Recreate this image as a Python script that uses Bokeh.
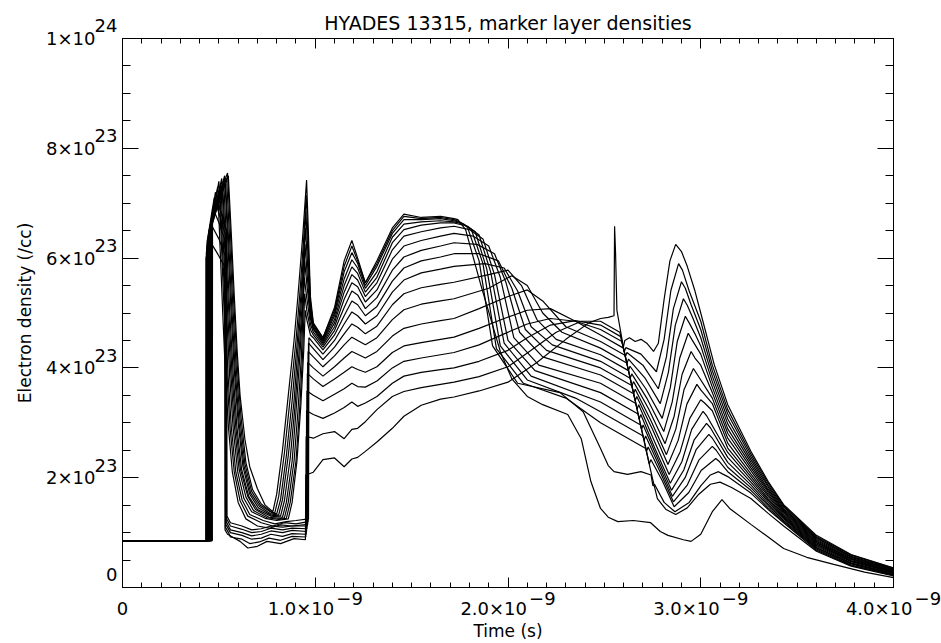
from bokeh.plotting import figure
from bokeh.models import Range1d, LinearAxis, FixedTicker
from bokeh.embed import file_html
from bokeh.resources import INLINE

TITLE = "HYADES 13315, marker layer densities"
X_TITLE = "Time (s)"
Y_TITLE = "Electron density (/cc)"

T_UNIT = 1e-9   # layer times are in ns
N_UNIT = 1e23   # layer densities are in 1e23 /cc

x_ticks = [0.0, 1e-9, 2e-9, 3e-9, 4e-9]
x_tick_main = ["0", "1.0×10", "2.0×10", "3.0×10", "4.0×10"]
x_tick_sup = ["", "−9", "−9", "−9", "−9"]
y_ticks = [0.0, 2e23, 4e23, 6e23, 8e23, 1e24]
y_tick_main = ["", "2×10", "4×10", "6×10", "8×10", "1×10"]
y_tick_sup = ["0", "23", "23", "23", "23", "24"]

mid_times = [0.99, 1.04, 1.10, 1.15, 1.19, 1.22, 1.26, 1.32, 1.40, 1.46, 1.55, 1.65, 1.72]

layer_00_head = [(0.0, 0.855), (0.432, 0.855), (0.433, 6.00), (0.455, 6.30), (0.490, 6.10), (0.530, 5.85), (0.532, 1.05), (0.545, 0.97), (0.610, 0.84), (0.650, 0.72), (0.700, 0.75), (0.750, 0.84), (0.820, 0.80), (0.890, 0.89), (0.949, 0.87), (0.951, 2.05)]
layer_00_mid = [2.10, 2.33, 2.36, 2.20, 2.34, 2.37, 2.48, 2.65, 2.90, 3.12, 3.32, 3.43, 3.47]
layer_00_tail = [(1.85, 3.58), (2.00, 3.74), (2.15, 4.10), (2.30, 4.52), (2.42, 4.82), (2.48, 4.90), (2.52, 4.92), (2.550, 4.95), (2.553, 6.58), (2.558, 6.10), (2.565, 5.05), (2.60, 4.35), (2.64, 3.72), (2.68, 3.08), (2.72, 2.45), (2.75, 1.98), (2.775, 1.62), (2.82, 1.42), (2.87, 1.33), (2.93, 1.45), (2.99, 1.70), (3.05, 1.88), (3.10, 1.92), (3.16, 1.82), (3.26, 1.62), (3.35, 1.35), (3.43, 1.12), (3.60, 0.66), (3.78, 0.39), (4.00, 0.21)]

layer_01_head = [(0.0, 0.855), (0.434, 0.855), (0.435, 6.10), (0.462, 6.60), (0.500, 6.35), (0.532, 6.05), (0.534, 1.10), (0.550, 1.00), (0.560, 0.92), (0.620, 0.88), (0.660, 0.80), (0.710, 0.83), (0.760, 0.90), (0.820, 0.86), (0.880, 0.93), (0.951, 0.92), (0.953, 2.75)]
layer_01_mid = [2.72, 2.80, 2.84, 2.71, 2.88, 2.90, 3.02, 3.24, 3.48, 3.57, 3.64, 3.70, 3.74]
layer_01_tail = [(1.85, 3.84), (2.00, 4.02), (2.12, 4.32), (2.25, 4.65), (2.38, 4.85), (2.48, 4.85), (2.580, 4.65), (2.598, 4.37), (2.606, 4.50), (2.630, 4.55), (2.660, 4.48), (2.690, 4.52), (2.720, 4.45), (2.755, 4.30), (2.780, 4.45), (2.810, 5.25), (2.840, 5.95), (2.870, 6.25), (2.900, 6.12), (2.930, 5.85), (2.970, 5.40), (3.000, 5.00), (3.070, 4.06), (3.140, 3.33), (3.260, 2.48), (3.350, 1.93), (3.430, 1.51), (3.600, 0.95), (3.780, 0.60), (4.000, 0.36)]

layer_02_head = [(0.0, 0.855), (0.436, 0.855), (0.437, 6.20), (0.470, 6.90), (0.500, 6.65), (0.534, 6.30), (0.536, 1.15), (0.560, 1.00), (0.620, 0.95), (0.670, 0.88), (0.720, 0.90), (0.770, 0.97), (0.830, 0.93), (0.880, 0.98), (0.953, 0.97), (0.955, 3.22)]
layer_02_mid = [3.15, 3.08, 3.18, 3.28, 3.38, 3.30, 3.36, 3.48, 3.72, 3.85, 3.92, 3.97, 4.00]
layer_02_tail = [(1.85, 4.12), (2.00, 4.32), (2.10, 4.55), (2.22, 4.78), (2.35, 4.86), (2.48, 4.78), (2.585, 4.57), (2.603, 4.29), (2.611, 4.37), (2.690, 4.25), (2.770, 3.93), (2.810, 4.52), (2.845, 5.41), (2.885, 5.90), (2.905, 5.78), (2.940, 5.40), (3.000, 4.85), (3.060, 4.05), (3.140, 3.24), (3.260, 2.43), (3.350, 1.90), (3.430, 1.49), (3.600, 0.93), (3.780, 0.59), (4.000, 0.35)]

layer_03_head = [(0.0, 0.855), (0.438, 0.855), (0.439, 6.30), (0.476, 7.10), (0.510, 6.70), (0.536, 6.40), (0.538, 1.20), (0.560, 1.05), (0.620, 1.00), (0.670, 0.94), (0.720, 0.97), (0.770, 1.03), (0.830, 1.00), (0.880, 1.04), (0.955, 1.02), (0.957, 3.58)]
layer_03_mid = [3.50, 3.40, 3.52, 3.62, 3.72, 3.66, 3.65, 3.76, 4.00, 4.12, 4.18, 4.24, 4.28]
layer_03_tail = [(1.85, 4.42), (1.98, 4.62), (2.10, 4.80), (2.22, 4.90), (2.35, 4.85), (2.48, 4.70), (2.591, 4.48), (2.609, 4.20), (2.617, 4.28), (2.700, 4.05), (2.780, 3.62), (2.822, 4.20), (2.858, 5.08), (2.900, 5.57), (2.920, 5.45), (2.950, 5.15), (3.000, 4.70), (3.060, 3.95), (3.140, 3.16), (3.260, 2.38), (3.350, 1.86), (3.430, 1.47), (3.600, 0.91), (3.780, 0.57), (4.000, 0.34)]

layer_04_head = [(0.0, 0.855), (0.440, 0.855), (0.441, 6.20), (0.482, 7.20), (0.510, 6.85), (0.538, 6.50), (0.540, 1.25), (0.560, 1.12), (0.620, 1.06), (0.670, 1.00), (0.720, 1.02), (0.770, 1.08), (0.830, 1.05), (0.880, 1.08), (0.957, 1.07), (0.959, 3.90)]
layer_04_mid = [3.80, 3.66, 3.80, 3.92, 4.02, 3.97, 3.92, 4.02, 4.28, 4.40, 4.46, 4.52, 4.56]
layer_04_tail = [(1.85, 4.72), (1.98, 4.90), (2.10, 5.05), (2.22, 5.08), (2.35, 4.85), (2.48, 4.60), (2.599, 4.36), (2.617, 4.08), (2.625, 4.16), (2.710, 3.82), (2.790, 3.35), (2.832, 3.92), (2.868, 4.78), (2.910, 5.26), (2.930, 5.14), (2.960, 4.90), (3.000, 4.55), (3.060, 3.85), (3.140, 3.07), (3.260, 2.33), (3.350, 1.83), (3.430, 1.44), (3.600, 0.90), (3.780, 0.56), (4.000, 0.33)]

layer_05_head = [(0.0, 0.855), (0.442, 0.855), (0.443, 6.30), (0.488, 7.05), (0.515, 6.80), (0.540, 6.50), (0.542, 1.30), (0.560, 1.18), (0.620, 1.12), (0.670, 1.05), (0.720, 1.07), (0.770, 1.12), (0.830, 1.10), (0.880, 1.12), (0.959, 1.12), (0.961, 4.10)]
layer_05_mid = [4.00, 3.85, 4.02, 4.18, 4.30, 4.25, 4.18, 4.30, 4.58, 4.72, 4.80, 4.86, 4.90]
layer_05_tail = [(1.85, 5.08), (2.00, 5.30), (2.10, 5.42), (2.18, 5.22), (2.30, 4.75), (2.48, 4.48), (2.607, 4.23), (2.625, 3.95), (2.633, 4.03), (2.715, 3.62), (2.800, 3.08), (2.842, 3.64), (2.878, 4.48), (2.920, 4.94), (2.940, 4.82), (2.970, 4.62), (3.000, 4.40), (3.060, 3.75), (3.140, 2.98), (3.260, 2.28), (3.350, 1.79), (3.430, 1.42), (3.600, 0.88), (3.780, 0.55), (4.000, 0.32)]

layer_06_head = [(0.0, 0.855), (0.444, 0.855), (0.445, 6.40), (0.494, 7.30), (0.505, 6.30), (0.520, 5.00), (0.535, 3.80), (0.550, 2.90), (0.570, 2.10), (0.600, 1.55), (0.640, 1.25), (0.700, 1.12), (0.760, 1.08), (0.820, 1.14), (0.880, 1.12), (0.961, 1.15), (0.963, 4.30)]
layer_06_mid = [4.20, 4.02, 4.22, 4.42, 4.56, 4.50, 4.42, 4.55, 4.88, 5.06, 5.16, 5.22, 5.26]
layer_06_tail = [(1.90, 5.45), (2.02, 5.68), (2.10, 5.50), (2.18, 5.00), (2.28, 4.65), (2.48, 4.36), (2.616, 4.09), (2.634, 3.81), (2.642, 3.89), (2.720, 3.45), (2.808, 2.84), (2.852, 3.38), (2.891, 4.18), (2.935, 4.63), (2.955, 4.51), (3.000, 4.25), (3.060, 3.65), (3.140, 2.89), (3.260, 2.23), (3.350, 1.76), (3.430, 1.40), (3.600, 0.86), (3.780, 0.53), (4.000, 0.31)]

layer_07_head = [(0.0, 0.855), (0.446, 0.855), (0.447, 6.30), (0.500, 7.40), (0.512, 6.35), (0.527, 5.05), (0.542, 3.85), (0.558, 2.90), (0.580, 2.10), (0.610, 1.58), (0.650, 1.30), (0.720, 1.18), (0.780, 1.12), (0.840, 1.18), (0.900, 1.16), (0.963, 1.20), (0.965, 4.45)]
layer_07_mid = [4.35, 4.15, 4.38, 4.62, 4.80, 4.74, 4.62, 4.76, 5.15, 5.35, 5.46, 5.52, 5.56]
layer_07_tail = [(1.90, 5.70), (2.00, 5.78), (2.07, 5.50), (2.15, 4.88), (2.25, 4.52), (2.48, 4.24), (2.625, 3.95), (2.643, 3.67), (2.651, 3.75), (2.730, 3.25), (2.815, 2.62), (2.862, 3.12), (2.903, 3.88), (2.950, 4.30), (2.970, 4.18), (3.000, 4.05), (3.060, 3.55), (3.140, 2.81), (3.260, 2.18), (3.350, 1.73), (3.430, 1.38), (3.600, 0.84), (3.780, 0.52), (4.000, 0.30)]

layer_08_head = [(0.0, 0.855), (0.448, 0.855), (0.449, 6.50), (0.505, 7.25), (0.518, 6.25), (0.533, 5.00), (0.548, 3.85), (0.565, 2.90), (0.588, 2.10), (0.620, 1.60), (0.660, 1.33), (0.730, 1.22), (0.790, 1.16), (0.850, 1.20), (0.900, 1.22), (0.965, 1.25), (0.967, 4.55)]
layer_08_mid = [4.45, 4.25, 4.50, 4.80, 5.02, 4.95, 4.80, 4.95, 5.38, 5.60, 5.73, 5.80, 5.85]
layer_08_tail = [(1.88, 5.90), (1.98, 5.82), (2.05, 5.40), (2.12, 4.75), (2.23, 4.42), (2.48, 4.12), (2.634, 3.81), (2.652, 3.53), (2.660, 3.61), (2.740, 3.05), (2.822, 2.42), (2.871, 2.89), (2.913, 3.60), (2.962, 3.99), (2.982, 3.88), (3.060, 3.45), (3.140, 2.72), (3.260, 2.13), (3.350, 1.69), (3.430, 1.36), (3.600, 0.82), (3.780, 0.51), (4.000, 0.29)]

layer_09_head = [(0.0, 0.855), (0.450, 0.855), (0.451, 6.40), (0.510, 7.35), (0.523, 6.30), (0.540, 5.00), (0.556, 3.85), (0.574, 2.90), (0.598, 2.10), (0.630, 1.62), (0.670, 1.38), (0.740, 1.26), (0.800, 1.22), (0.860, 1.25), (0.880, 1.55), (0.905, 2.30), (0.925, 3.30), (0.940, 4.30), (0.948, 5.05), (0.958, 4.85), (0.975, 4.60)]
layer_09_mid = [4.55, 4.33, 4.60, 4.95, 5.22, 5.15, 4.95, 5.12, 5.58, 5.82, 5.95, 6.02, 6.08]
layer_09_tail = [(1.85, 6.08), (1.95, 5.95), (2.02, 5.45), (2.09, 4.70), (2.20, 4.32), (2.48, 4.00), (2.642, 3.68), (2.660, 3.40), (2.668, 3.48), (2.750, 2.88), (2.830, 2.24), (2.883, 2.68), (2.928, 3.34), (2.980, 3.70), (3.000, 3.60), (3.060, 3.35), (3.140, 2.63), (3.260, 2.07), (3.350, 1.66), (3.430, 1.33), (3.600, 0.81), (3.780, 0.49), (4.000, 0.29)]

layer_10_head = [(0.0, 0.855), (0.452, 0.855), (0.453, 6.50), (0.515, 7.45), (0.528, 6.35), (0.545, 5.05), (0.562, 3.90), (0.580, 2.95), (0.605, 2.15), (0.640, 1.65), (0.680, 1.40), (0.750, 1.27), (0.810, 1.24), (0.850, 1.26), (0.870, 1.55), (0.900, 2.30), (0.920, 3.30), (0.935, 4.30), (0.945, 5.35), (0.956, 5.05), (0.975, 4.70)]
layer_10_mid = [4.60, 4.38, 4.68, 5.10, 5.40, 5.33, 5.08, 5.28, 5.78, 6.02, 6.14, 6.22, 6.28]
layer_10_tail = [(1.84, 6.25), (1.93, 6.08), (1.99, 5.55), (2.06, 4.65), (2.18, 4.20), (2.48, 3.87), (2.652, 3.53), (2.670, 3.25), (2.678, 3.33), (2.755, 2.70), (2.836, 2.06), (2.893, 2.47), (2.943, 3.08), (3.000, 3.42), (3.020, 3.36), (3.060, 3.22), (3.140, 2.54), (3.260, 2.02), (3.350, 1.62), (3.430, 1.31), (3.600, 0.79), (3.780, 0.48), (4.000, 0.28)]

layer_11_head = [(0.0, 0.855), (0.454, 0.855), (0.455, 6.60), (0.520, 7.30), (0.534, 6.30), (0.551, 5.05), (0.568, 3.90), (0.587, 2.95), (0.612, 2.15), (0.650, 1.66), (0.690, 1.42), (0.760, 1.28), (0.820, 1.26), (0.840, 1.27), (0.860, 1.55), (0.890, 2.30), (0.910, 3.20), (0.928, 4.20), (0.943, 5.65), (0.955, 5.30), (0.975, 4.80)]
layer_11_mid = [4.65, 4.42, 4.75, 5.25, 5.55, 5.48, 5.20, 5.42, 5.98, 6.22, 6.32, 6.40, 6.45]
layer_11_tail = [(1.82, 6.40), (1.90, 6.22), (1.96, 5.65), (2.03, 4.55), (2.16, 4.05), (2.48, 3.72), (2.663, 3.35), (2.681, 3.07), (2.689, 3.15), (2.760, 2.55), (2.842, 1.90), (2.902, 2.29), (2.953, 2.88), (3.012, 3.21), (3.032, 3.12), (3.140, 2.46), (3.260, 1.97), (3.350, 1.59), (3.430, 1.29), (3.600, 0.77), (3.780, 0.47), (4.000, 0.27)]

layer_12_head = [(0.0, 0.855), (0.456, 0.855), (0.457, 6.50), (0.525, 7.40), (0.539, 6.35), (0.556, 5.05), (0.574, 3.90), (0.593, 2.95), (0.618, 2.15), (0.655, 1.66), (0.700, 1.42), (0.770, 1.30), (0.830, 1.28), (0.850, 1.55), (0.880, 2.30), (0.900, 3.20), (0.920, 4.20), (0.938, 5.30), (0.945, 5.95), (0.957, 5.50), (0.975, 4.90)]
layer_12_mid = [4.70, 4.45, 4.82, 5.38, 5.70, 5.60, 5.30, 5.55, 6.15, 6.40, 6.48, 6.55, 6.58]
layer_12_tail = [(1.80, 6.52), (1.87, 6.35), (1.93, 5.70), (2.00, 4.50), (2.14, 3.95), (2.48, 3.55), (2.675, 3.16), (2.693, 2.88), (2.701, 2.96), (2.770, 2.40), (2.848, 1.77), (2.912, 2.14), (2.966, 2.69), (3.030, 2.99), (3.050, 2.91), (3.140, 2.37), (3.260, 1.92), (3.350, 1.56), (3.430, 1.27), (3.600, 0.75), (3.780, 0.45), (4.000, 0.26)]

layer_13_head = [(0.0, 0.855), (0.458, 0.855), (0.459, 6.60), (0.530, 7.50), (0.545, 6.40), (0.562, 5.10), (0.580, 3.95), (0.600, 3.00), (0.625, 2.20), (0.660, 1.70), (0.705, 1.45), (0.770, 1.32), (0.820, 1.30), (0.840, 1.58), (0.870, 2.35), (0.895, 3.30), (0.915, 4.25), (0.935, 5.30), (0.947, 6.25), (0.958, 5.70), (0.975, 4.95)]
layer_13_mid = [4.72, 4.48, 4.88, 5.50, 5.84, 5.72, 5.38, 5.65, 6.28, 6.52, 6.60, 6.64, 6.64]
layer_13_tail = [(1.79, 6.58), (1.85, 6.42), (1.91, 5.75), (1.98, 4.45), (2.12, 3.85), (2.48, 3.38), (2.688, 2.96), (2.706, 2.68), (2.714, 2.76), (2.780, 2.25), (2.853, 1.66), (2.919, 2.00), (2.976, 2.51), (3.042, 2.79), (3.062, 2.71), (3.140, 2.28), (3.260, 1.87), (3.350, 1.52), (3.430, 1.25), (3.600, 0.73), (3.780, 0.44), (4.000, 0.25)]

layer_14_head = [(0.0, 0.855), (0.460, 0.855), (0.461, 6.70), (0.535, 7.35), (0.550, 6.35), (0.567, 5.10), (0.585, 3.95), (0.605, 3.00), (0.630, 2.22), (0.665, 1.72), (0.710, 1.48), (0.770, 1.34), (0.810, 1.32), (0.830, 1.60), (0.860, 2.40), (0.890, 3.40), (0.910, 4.35), (0.930, 5.30), (0.949, 6.55), (0.960, 5.90), (0.975, 5.00)]
layer_14_mid = [4.75, 4.50, 4.95, 5.62, 5.97, 5.82, 5.45, 5.75, 6.38, 6.62, 6.66, 6.68, 6.66]
layer_14_tail = [(1.77, 6.62), (1.83, 6.48), (1.89, 5.80), (1.96, 4.40), (2.10, 3.78), (2.35, 3.45), (2.48, 3.20), (2.701, 2.76), (2.719, 2.48), (2.727, 2.56), (2.790, 2.10), (2.858, 1.56), (2.929, 1.86), (2.990, 2.32), (3.060, 2.57), (3.080, 2.50), (3.140, 2.19), (3.260, 1.82), (3.350, 1.49), (3.430, 1.22), (3.600, 0.72), (3.780, 0.43), (4.000, 0.24)]

layer_15_head = [(0.0, 0.855), (0.462, 0.855), (0.463, 6.60), (0.540, 7.45), (0.555, 6.40), (0.572, 5.15), (0.590, 4.00), (0.610, 3.05), (0.635, 2.25), (0.670, 1.75), (0.715, 1.50), (0.775, 1.36), (0.800, 1.34), (0.820, 1.60), (0.850, 2.40), (0.880, 3.40), (0.905, 4.40), (0.925, 5.30), (0.945, 6.40), (0.951, 6.85), (0.962, 6.10), (0.975, 5.10)]
layer_15_mid = [4.78, 4.52, 5.00, 5.75, 6.10, 5.90, 5.50, 5.85, 6.45, 6.70, 6.70, 6.72, 6.68]
layer_15_tail = [(1.76, 6.64), (1.81, 6.52), (1.87, 5.90), (1.94, 4.35), (2.08, 3.72), (2.30, 3.45), (2.48, 3.00), (2.715, 2.53), (2.733, 2.25), (2.741, 2.33), (2.800, 1.95), (2.862, 1.47), (2.938, 1.73), (3.002, 2.13), (3.078, 2.35), (3.098, 2.29), (3.140, 2.11), (3.260, 1.77), (3.350, 1.45), (3.430, 1.20), (3.600, 0.70), (3.780, 0.41), (4.000, 0.23)]

layer_16_head = [(0.0, 0.855), (0.464, 0.855), (0.465, 6.80), (0.545, 7.55), (0.560, 6.45), (0.577, 5.20), (0.595, 4.05), (0.615, 3.10), (0.640, 2.28), (0.675, 1.78), (0.720, 1.52), (0.775, 1.37), (0.790, 1.36), (0.810, 1.65), (0.840, 2.45), (0.870, 3.45), (0.900, 4.50), (0.920, 5.35), (0.940, 6.35), (0.953, 7.15), (0.963, 6.30), (0.975, 5.20)]
layer_16_mid = [4.80, 4.55, 5.05, 5.85, 6.22, 5.95, 5.55, 5.90, 6.50, 6.76, 6.72, 6.74, 6.70]
layer_16_tail = [(1.75, 6.66), (1.79, 6.56), (1.85, 5.95), (1.92, 4.40), (2.05, 3.72), (2.27, 3.55), (2.39, 3.20), (2.48, 2.53), (2.52, 2.22), (2.55, 2.11), (2.62, 2.06), (2.69, 2.11), (2.742, 2.05), (2.752, 1.85), (2.760, 1.88), (2.810, 1.55), (2.866, 1.38), (2.940, 1.55), (3.000, 1.85), (3.050, 2.05), (3.092, 2.11), (3.112, 2.07), (3.140, 2.02), (3.260, 1.72), (3.350, 1.42), (3.430, 1.18), (3.600, 0.68), (3.780, 0.40), (4.000, 0.22)]

layer_17_head = [(0.0, 0.855), (0.466, 0.855), (0.467, 6.90), (0.549, 7.50), (0.565, 6.40), (0.580, 5.30), (0.595, 4.30), (0.610, 3.50), (0.635, 2.70), (0.660, 2.20), (0.700, 1.80), (0.740, 1.50), (0.780, 1.38), (0.800, 1.70), (0.830, 2.50), (0.860, 3.50), (0.890, 4.50), (0.910, 5.30), (0.935, 6.40), (0.955, 7.42), (0.965, 6.40), (0.975, 5.30)]
layer_17_mid = [4.82, 4.55, 5.10, 5.95, 6.32, 6.00, 5.55, 5.95, 6.55, 6.80, 6.74, 6.76, 6.72]
layer_17_tail = [(1.74, 6.70), (1.78, 6.52), (1.86, 5.50), (1.96, 4.30), (2.02, 3.80), (2.10, 3.48), (2.18, 3.33), (2.31, 3.15), (2.38, 2.71), (2.43, 1.93), (2.48, 1.44), (2.52, 1.28), (2.57, 1.20), (2.65, 1.22), (2.74, 1.18), (2.79, 1.02), (2.83, 0.95), (2.91, 0.87), (2.95, 0.84), (3.00, 0.97), (3.06, 1.38), (3.11, 1.60), (3.15, 1.44), (3.26, 1.15), (3.35, 0.92), (3.43, 0.71), (3.55, 0.55), (3.69, 0.42), (3.85, 0.28), (4.00, 0.18)]

layers = [
    (layer_00_head, layer_00_mid, layer_00_tail),
    (layer_01_head, layer_01_mid, layer_01_tail),
    (layer_02_head, layer_02_mid, layer_02_tail),
    (layer_03_head, layer_03_mid, layer_03_tail),
    (layer_04_head, layer_04_mid, layer_04_tail),
    (layer_05_head, layer_05_mid, layer_05_tail),
    (layer_06_head, layer_06_mid, layer_06_tail),
    (layer_07_head, layer_07_mid, layer_07_tail),
    (layer_08_head, layer_08_mid, layer_08_tail),
    (layer_09_head, layer_09_mid, layer_09_tail),
    (layer_10_head, layer_10_mid, layer_10_tail),
    (layer_11_head, layer_11_mid, layer_11_tail),
    (layer_12_head, layer_12_mid, layer_12_tail),
    (layer_13_head, layer_13_mid, layer_13_tail),
    (layer_14_head, layer_14_mid, layer_14_tail),
    (layer_15_head, layer_15_mid, layer_15_tail),
    (layer_16_head, layer_16_mid, layer_16_tail),
    (layer_17_head, layer_17_mid, layer_17_tail),
]

xs, ys = [], []
for head, mid, tail in layers:
    pts = list(head) + list(zip(mid_times, mid)) + list(tail)
    xs.append([t * T_UNIT for t, _ in pts])
    ys.append([n * N_UNIT for _, n in pts])

FONT = "DejaVu Sans"
FS = "18px"
FIG_SP = "\u2007"    # digit-wide space, used to offset the split label pieces
PUNC_SP = "\u2008"

p = figure(frame_width=771, frame_height=549,
           x_range=Range1d(0, 4e-9), y_range=Range1d(0, 1e24),
           output_backend="svg", toolbar_location=None,
           min_border_left=122, min_border_right=48,
           min_border_top=38, min_border_bottom=56)
p.background_fill_color = "white"
p.border_fill_color = "white"
p.outline_line_color = None
p.xgrid.visible = False
p.ygrid.visible = False

p.title.text = TITLE
p.title.align = "center"
p.title.text_font = FONT
p.title.text_font_size = "19px"
p.title.text_font_style = "normal"
p.title.text_color = "black"
p.title.standoff = 10

p.multi_line(xs=xs, ys=ys, line_color="black", line_width=1.2)

x_minor = [i * 1e-10 for i in range(41)]
y_minor = [i * 5e22 for i in range(21)]


def font_axis(ax):
    ax.major_label_text_font = FONT
    ax.major_label_text_font_size = FS
    ax.major_label_text_color = "black"
    ax.axis_label_text_font = FONT
    ax.axis_label_text_font_size = "17px"
    ax.axis_label_text_font_style = "normal"
    ax.axis_label_text_color = "black"


def tick_axis(ax, ticks, minor, major_len, minor_len):
    ax.ticker = FixedTicker(ticks=ticks, minor_ticks=minor)
    ax.major_tick_in = major_len
    ax.major_tick_out = 0
    ax.minor_tick_in = minor_len
    ax.minor_tick_out = 0
    ax.axis_line_color = "black"
    ax.major_tick_line_color = "black"
    ax.minor_tick_line_color = "black"
    ax.major_label_overrides = {t: "" for t in ticks}
    ax.major_label_standoff = 0
    font_axis(ax)


def text_axis(ax, ticks, labels, standoff):
    ax.ticker = FixedTicker(ticks=ticks, minor_ticks=[])
    ax.major_tick_in = 0
    ax.major_tick_out = 0
    ax.minor_tick_in = 0
    ax.minor_tick_out = 0
    ax.axis_line_color = None
    ax.major_tick_line_color = None
    ax.minor_tick_line_color = None
    ax.major_label_overrides = {t: lab for t, lab in zip(ticks, labels)}
    ax.major_label_standoff = standoff
    font_axis(ax)


# frame box: ticks on all four sides
tick_axis(p.xaxis[0], x_ticks, x_minor, 10, 5)
tick_axis(p.yaxis[0], y_ticks, y_minor, 16, 8)
top_ax = LinearAxis()
right_ax = LinearAxis()
tick_axis(top_ax, x_ticks, x_minor, 10, 5)
tick_axis(right_ax, y_ticks, y_minor, 16, 8)
p.add_layout(top_ax, "above")
p.add_layout(right_ax, "right")

# x tick labels: exponent piece (set to the right), mantissa piece (set to the left)
x_sup_ax = LinearAxis()
text_axis(x_sup_ax, x_ticks[1:], [FIG_SP * 6 + s for s in x_tick_sup[1:]], 0)
p.add_layout(x_sup_ax, "below")
x_main_ax = LinearAxis()
x_main_text = [x_tick_main[0]] + [m + FIG_SP * 2 + PUNC_SP for m in x_tick_main[1:]]
text_axis(x_main_ax, x_ticks, x_main_text, -14)
x_main_ax.axis_label = X_TITLE
x_main_ax.axis_label_standoff = -1
p.add_layout(x_main_ax, "below")

# y tick labels: exponent piece (raised by a blank second line) next to the frame
y_sup_ax = LinearAxis()
text_axis(y_sup_ax, y_ticks, [s + "\n" for s in y_tick_sup], 5)
p.add_layout(y_sup_ax, "left")
y_main_ax = LinearAxis()
text_axis(y_main_ax, y_ticks[1:], y_tick_main[1:], -4)
y_main_ax.axis_label = Y_TITLE
y_main_ax.axis_label_standoff = 8
p.add_layout(y_main_ax, "left")

open("out.html", "w").write(file_html(p, INLINE))
